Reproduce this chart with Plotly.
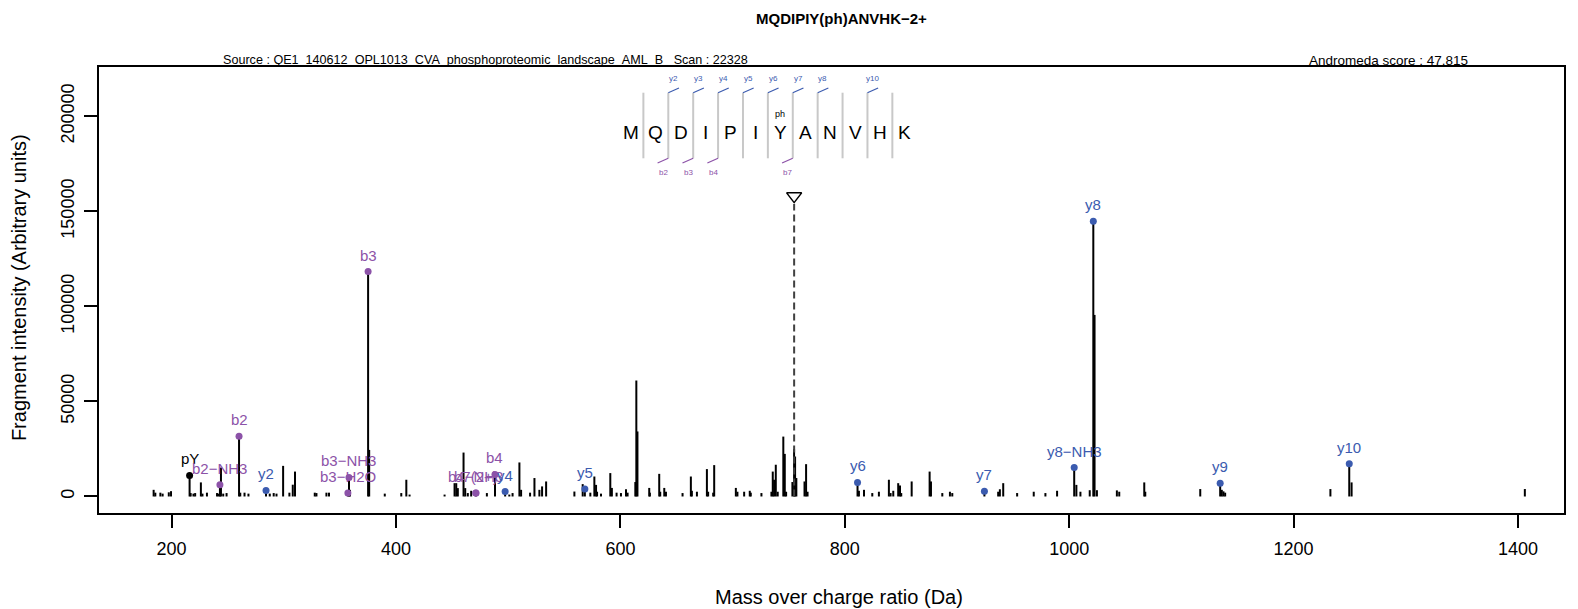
import plotly.graph_objects as go

# ---------------- data ----------------
peak_mz = [184.0, 185.5, 190.0, 192.0, 197.5, 199.5, 216.04, 217.0, 219.5, 221.0, 226.1, 227.5,
           231.5, 240.5, 242.0, 243.08, 244.0, 246.0, 249.0, 260.11, 261.2, 265.0, 268.5,
           284.17, 287.5, 291.0, 293.5, 299.4, 305.0, 308.0, 310.0, 327.6, 329.1, 338.0, 340.3,
           357.13, 358.11, 359.0, 375.14, 376.1, 390.0, 404.7, 409.2, 412.1, 443.3, 452.2, 453.7,
           455.1, 460.2, 461.7, 464.0, 467.0, 471.2, 481.0, 488.22, 497.28, 501.0, 503.9, 510.0,
           511.5, 519.5, 523.4, 527.8, 530.2, 533.8, 559.0, 566.4, 568.32, 573.2, 576.8, 578.3,
           579.2, 582.7, 591.0, 592.4, 596.6, 600.5, 605.0, 606.4, 613.3, 614.2, 615.2, 625.7,
           626.3, 634.6, 635.5, 639.1, 640.6, 655.4, 662.8, 663.7, 668.2, 677.1, 678.2, 682.7,
           683.6, 702.9, 704.3, 710.3, 715.3, 716.2, 725.7, 734.6, 735.8, 737.0, 738.5, 740.2,
           745.2, 746.5, 747.7, 753.3, 754.8, 755.7, 756.8, 764.1, 765.5, 766.8, 811.35, 812.6,
           817.1, 824.5, 830.4, 839.3, 840.8, 843.2, 847.6, 849.2, 850.3, 859.6, 875.6, 876.8,
           886.9, 893.7, 895.8, 924.43, 936.7, 938.2, 941.2, 953.6, 968.4, 978.8, 989.2, 1004.46,
           1006.4, 1010.0, 1018.3, 1021.49, 1022.6, 1024.7, 1042.5, 1044.6, 1066.9, 1067.8,
           1116.8, 1134.57, 1136.0, 1137.5, 1139.0, 1232.8, 1249.6, 1251.7, 1406.1]
peak_int = [3500, 2000, 2000, 1500, 2200, 2800, 11100, 1800, 1500, 1800, 7400, 1500,
            2000, 1800, 1500, 6150, 15200, 1500, 1800, 31700, 2000, 2000, 1500,
            3200, 1500, 1800, 1500, 16100, 2000, 6200, 13100, 2000, 1800, 2000, 2000,
            1800, 10000, 3500, 118300, 24500, 1500, 1800, 8800, 1000, 1000, 7000, 7000,
            4400, 23100, 4400, 1800, 3000, 1800, 1800, 11600, 2600, 1000, 1800, 17900,
            3500, 2000, 9700, 3500, 5300, 7900, 2600, 6500, 3900, 2000, 10500, 6100,
            2500, 1500, 12300, 4500, 2000, 1800, 3800, 2000, 7600, 61000, 34200, 4500,
            2000, 11900, 2500, 4500, 2500, 1800, 10500, 3000, 2500, 14400, 2500, 2000,
            16500, 4500, 2500, 2500, 3000, 2000, 1800, 2500, 13100, 8800, 16700, 2500,
            31500, 22400, 2500, 7600, 24900, 21000, 9700, 7900, 17000, 2500, 7400, 3000,
            3500, 1800, 2500, 8800, 1800, 3000, 7000, 5800, 1800, 7900, 13100, 7900,
            1800, 2500, 1800, 2800, 2500, 3800, 7000, 1800, 2500, 1800, 3000, 15200,
            6100, 2500, 3300, 144800, 95500, 3300, 3200, 2500, 7400, 2500,
            3900, 7000, 3500, 2700, 2000, 3900, 17200, 7400, 3900]

# annotated fragment ions
ion_labels = ["pY", "b2\u2212NH3", "b2", "y2", "b3\u2212H2O", "b3\u2212NH3", "b3",
              "b4\u2212NH3", "b7(2+)", "b4", "y4", "y5", "y6", "y7", "y8\u2212NH3", "y8", "y9", "y10"]
ion_mz = [216.04, 243.08, 260.11, 284.17, 357.13, 358.11, 375.14,
          471.2, 471.2, 488.22, 497.28, 568.32, 811.35, 924.43, 1004.46, 1021.49, 1134.57, 1249.6]
ion_int = [11100, 6150, 31700, 3200, 1800, 10000, 118300,
           1800, 1800, 11600, 2600, 3900, 7400, 2800, 15200, 144800, 7000, 17200]
ion_type = ["imm", "b", "b", "y", "b", "b", "b", "b", "b", "b", "y", "y", "y", "y", "y", "y", "y", "y"]

precursor_mz = 754.85
precursor_int = 158000

sequence = ["M", "Q", "D", "I", "P", "I", "Y", "A", "N", "V", "H", "K"]
mod_residue = 6
mod_label = "ph"
seq_y_cuts = [2, 3, 4, 5, 6, 7, 8, 10]
seq_y_names = ["y2", "y3", "y4", "y5", "y6", "y7", "y8", "y10"]
seq_b_cuts = [2, 3, 4, 7]
seq_b_names = ["b2", "b3", "b4", "b7"]

x_ticks = [200, 400, 600, 800, 1000, 1200, 1400]
y_ticks = [0, 50000, 100000, 150000, 200000]

title_text = "MQDIPIY(ph)ANVHK\u22122+"
source_text = "Source : QE1_140612_OPL1013_CVA_phosphoproteomic_landscape_AML_B\u00a0\u00a0\u00a0Scan : 22328"
score_text = "Andromeda score : 47.815"

# ---------------- styling ----------------
FONT = "Liberation Sans, Arial, Helvetica, sans-serif"
BLUE = "#3B5BAF"
PURPLE = "#8C52A8"
GRAY = "#C8C8C8"
colour = {"b": PURPLE, "y": BLUE, "imm": "black"}

OFF = 8                      # default page margin of the html body
W, H = 1578 - OFF, 609 - OFF
BOX_L, BOX_R, BOX_T, BOX_B = 99, 1566, 67, 513   # page pixels
ML, MR, MT, MB = BOX_L - OFF, (W + OFF) - BOX_R, BOX_T - OFF, (H + OFF) - BOX_B
XR = [135.3, 1441.0]
YR = [-8690, 225900]
PW, PH = W - ML - MR, H - MT - MB
px_per_da = PW / (XR[1] - XR[0])
px_per_int = PH / (YR[1] - YR[0])

fig = go.Figure()

# peaks as vertical sticks
xs, ys = [], []
for m, i in zip(peak_mz, peak_int):
    xs += [m, m, None]
    ys += [0, i, None]
fig.add_trace(go.Scatter(x=xs, y=ys, mode="lines", line=dict(color="black", width=2),
                         hoverinfo="skip", showlegend=False))

# precursor
fig.add_trace(go.Scatter(x=[precursor_mz, precursor_mz], y=[0, precursor_int - 8 / px_per_int],
                         mode="lines", line=dict(color="#404040", width=2, dash="7px,4px"),
                         showlegend=False, hoverinfo="skip"))
fig.add_trace(go.Scatter(x=[precursor_mz], y=[precursor_int], mode="markers",
                         marker=dict(symbol="triangle-down-open", size=13, color="black",
                                     line=dict(width=1.5, color="black")),
                         showlegend=False, hoverinfo="skip"))

# annotated ions: dots + labels
for t in ["imm", "b", "y"]:
    idx = [k for k, tt in enumerate(ion_type) if tt == t]
    fig.add_trace(go.Scatter(x=[ion_mz[k] for k in idx], y=[ion_int[k] for k in idx],
                             mode="markers", marker=dict(size=7, color=colour[t]),
                             showlegend=False, hoverinfo="skip"))
annotations = []
for lab, m, i, t in zip(ion_labels, ion_mz, ion_int, ion_type):
    annotations.append(dict(x=m, y=i, xref="x", yref="y", text=lab, showarrow=False,
                            yshift=16.5, yanchor="middle", xanchor="center",
                            font=dict(family=FONT, size=15, color=colour[t])))

# sequence diagram (in axis units; vertical positions given in page pixels)
def py(page_y):
    return YR[1] - (page_y - BOX_T) / px_per_int

seq_x0 = 609.4
seq_dx = 24.93 / px_per_da
sep_top, sep_bot = py(92.7), py(158.3)
diag_dx = 10.7 / px_per_da
diag_dy = 4.7 / px_per_int
for k, letter in enumerate(sequence):
    annotations.append(dict(x=seq_x0 + k * seq_dx, y=py(132.3), xref="x", yref="y", text=letter,
                            showarrow=False, yanchor="middle",
                            font=dict(family=FONT, size=19, color="black")))
annotations.append(dict(x=seq_x0 + mod_residue * seq_dx, y=py(114.3), xref="x", yref="y",
                        text=mod_label, showarrow=False, yanchor="middle",
                        font=dict(family=FONT, size=9, color="black")))
sx, sy = [], []
for k in range(1, len(sequence)):
    xc = seq_x0 + (k - 0.5) * seq_dx
    sx += [xc, xc, None]
    sy += [sep_bot, sep_top, None]
fig.add_trace(go.Scatter(x=sx, y=sy, mode="lines", line=dict(color=GRAY, width=2),
                         showlegend=False, hoverinfo="skip"))
yx, yy = [], []
for k, nm in zip(seq_y_cuts, seq_y_names):
    xc = seq_x0 + (k - 0.5) * seq_dx
    yx += [xc, xc + diag_dx, None]
    yy += [sep_top, sep_top + diag_dy, None]
    annotations.append(dict(x=xc + 5.3 / px_per_da, y=py(78.3), xref="x", yref="y", text=nm,
                            showarrow=False, yanchor="middle",
                            font=dict(family=FONT, size=8, color=BLUE)))
fig.add_trace(go.Scatter(x=yx, y=yy, mode="lines", line=dict(color=BLUE, width=1.2),
                         showlegend=False, hoverinfo="skip"))
bx, by = [], []
for k, nm in zip(seq_b_cuts, seq_b_names):
    xc = seq_x0 + (k - 0.5) * seq_dx
    bx += [xc, xc - diag_dx, None]
    by += [sep_bot, sep_bot - diag_dy, None]
    annotations.append(dict(x=xc - 5.0 / px_per_da, y=py(172.3), xref="x", yref="y", text=nm,
                            showarrow=False, yanchor="middle",
                            font=dict(family=FONT, size=8, color=PURPLE)))
fig.add_trace(go.Scatter(x=bx, y=by, mode="lines", line=dict(color=PURPLE, width=1.2),
                         showlegend=False, hoverinfo="skip"))

# texts around the plot (paper coordinates from page pixels)
def pxp(x):
    return (x - BOX_L) / PW
def pyp(y):
    return (BOX_B - y) / PH

annotations += [
    dict(x=pxp(843), y=pyp(18), xref="paper", yref="paper", text="<b>" + title_text + "</b>",
         showarrow=False, xanchor="center", yanchor="middle",
         font=dict(family=FONT, size=15, color="black")),
    dict(x=pxp(221), y=pyp(60.5), xref="paper", yref="paper", text=source_text,
         showarrow=False, xanchor="left", yanchor="middle",
         font=dict(family=FONT, size=12.6, color="black")),
    dict(x=pxp(1472), y=pyp(60.5), xref="paper", yref="paper", text=score_text,
         showarrow=False, xanchor="right", yanchor="middle",
         font=dict(family=FONT, size=13.5, color="black")),
    dict(x=pxp(840), y=pyp(597), xref="paper", yref="paper", text="Mass over charge ratio (Da)",
         showarrow=False, xanchor="center", yanchor="middle",
         font=dict(family=FONT, size=20, color="black")),
    dict(x=pxp(19), y=pyp(288), xref="paper", yref="paper",
         text="Fragment intensity (Arbitrary units)", textangle=-90,
         showarrow=False, xanchor="center", yanchor="middle",
         font=dict(family=FONT, size=20, color="black")),
]

fig.update_layout(
    width=W, height=H,
    margin=dict(l=ML, r=MR, t=MT, b=MB, pad=0),
    paper_bgcolor="white", plot_bgcolor="white",
    showlegend=False,
    annotations=annotations,
    xaxis=dict(range=XR, tickvals=x_ticks, ticktext=[str(v) for v in x_ticks],
               showgrid=False, zeroline=False, showline=True, mirror=True,
               linecolor="black", linewidth=1.5, ticks="outside", ticklen=13, tickwidth=1.5,
               tickcolor="black", ticklabelstandoff=6,
               tickfont=dict(family=FONT, size=18, color="black")),
    yaxis=dict(range=YR, tickvals=y_ticks, ticktext=[str(v) for v in y_ticks],
               showgrid=False, zeroline=False, showline=True, mirror=True,
               linecolor="black", linewidth=1.5, ticks="outside", ticklen=13, tickwidth=1.5,
               tickcolor="black", tickangle=-90, ticklabelstandoff=3,
               tickfont=dict(family=FONT, size=18, color="black")),
)

fig.write_html("out.html")
